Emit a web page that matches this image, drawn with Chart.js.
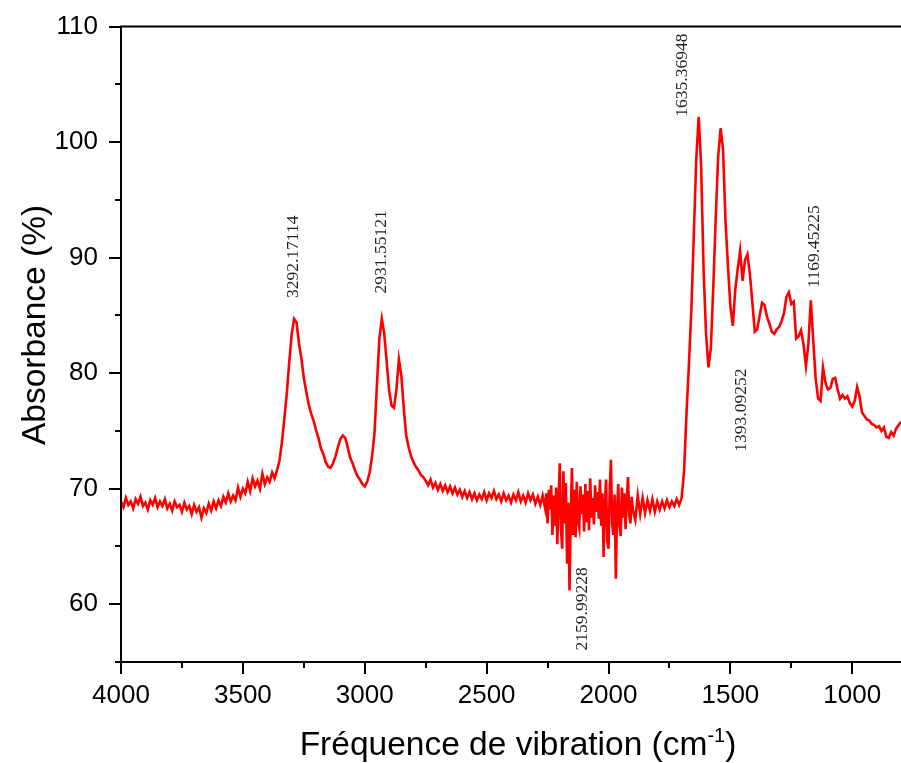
<!DOCTYPE html>
<html>
<head>
<meta charset="utf-8">
<script src="https://cdn.jsdelivr.net/npm/chart.js@4.4.1/dist/chart.umd.min.js"></script>
<style>
html, body { margin: 0; padding: 0; background: #fff; }
#wrap { width: 901px; height: 763px; }
</style>
</head>
<body>
<div id="wrap"><canvas id="chart_instance" width="901" height="763"></canvas></div>
<script>
// wavenumbers (cm-1) (every 10 cm-1, every 5 in the noisy band)
var wavenumber = [
    4000, 3990, 3980, 3970, 3960, 3950, 3940, 3930, 3920, 3910,
    3900, 3890, 3880, 3870, 3860, 3850, 3840, 3830, 3820, 3810,
    3800, 3790, 3780, 3770, 3760, 3750, 3740, 3730, 3720, 3710,
    3700, 3690, 3680, 3670, 3660, 3650, 3640, 3630, 3620, 3610,
    3600, 3590, 3580, 3570, 3560, 3550, 3540, 3530, 3520, 3510,
    3500, 3490, 3480, 3470, 3460, 3450, 3440, 3430, 3420, 3410,
    3400, 3390, 3380, 3370, 3360, 3350, 3340, 3330, 3320, 3310,
    3300, 3290, 3280, 3270, 3260, 3250, 3240, 3230, 3220, 3210,
    3200, 3190, 3180, 3170, 3160, 3150, 3140, 3130, 3120, 3110,
    3100, 3090, 3080, 3070, 3060, 3050, 3040, 3030, 3020, 3010,
    3000, 2990, 2980, 2970, 2960, 2950, 2940, 2930, 2920, 2910,
    2900, 2890, 2880, 2870, 2860, 2850, 2840, 2830, 2820, 2810,
    2800, 2790, 2780, 2770, 2760, 2750, 2740, 2730, 2720, 2710,
    2700, 2690, 2680, 2670, 2660, 2650, 2640, 2630, 2620, 2610,
    2600, 2590, 2580, 2570, 2560, 2550, 2540, 2530, 2520, 2510,
    2500, 2490, 2480, 2470, 2460, 2450, 2440, 2430, 2420, 2410,
    2400, 2390, 2380, 2370, 2360, 2350, 2340, 2330, 2320, 2310,
    2300, 2290, 2280, 2270,
    2260, 2255, 2250, 2245, 2240, 2235, 2230, 2225, 2220, 2215,
    2210, 2205, 2200, 2195, 2190, 2185, 2180, 2175, 2170, 2165,
    2160, 2155, 2150, 2145, 2140, 2135, 2130, 2125, 2120, 2115,
    2110, 2105, 2100, 2095, 2090, 2085, 2080, 2075, 2070, 2065,
    2060, 2055, 2050, 2045, 2040, 2035, 2030, 2025, 2020, 2015,
    2010, 2005, 2000, 1995, 1990, 1985, 1980, 1975, 1970, 1965,
    1960, 1955, 1950, 1945, 1940, 1935, 1930, 1925, 1920, 1915,
    1910, 1905, 1900,
    1890, 1880, 1870, 1860, 1850, 1840, 1830, 1820, 1810,
    1800, 1790, 1780, 1770, 1760, 1750, 1740, 1730, 1720, 1710,
    1700, 1690, 1680, 1670, 1660, 1650, 1640, 1630, 1620, 1610,
    1600, 1590, 1580, 1570, 1560, 1550, 1540, 1530, 1520, 1510,
    1500, 1490, 1480, 1470, 1460, 1450, 1440, 1430, 1420, 1410,
    1400, 1390, 1380, 1370, 1360, 1350, 1340, 1330, 1320, 1310,
    1300, 1290, 1280, 1270, 1260, 1250, 1240, 1230, 1220, 1210,
    1200, 1190, 1180, 1170, 1160, 1150, 1140, 1130, 1120, 1110,
    1100, 1090, 1080, 1070, 1060, 1050, 1040, 1030, 1020, 1010,
    1000, 990, 980, 970, 960, 950, 940, 930, 920, 910,
    900, 890, 880, 870, 860, 850, 840, 830, 820, 810,
    800
];

// absorbance (%)
var absorbance = [
    68.9, 68.4, 69.2, 68.6, 68.9, 68.3, 69.1, 68.7, 69.3, 68.5,
    68.8, 68.2, 69.0, 68.6, 69.2, 68.4, 68.9, 68.5, 69.1, 68.3,
    68.7, 68.1, 68.9, 68.4, 68.6, 68.0, 68.8, 68.2, 68.5, 67.8,
    68.6, 68.0, 68.4, 67.5, 68.3, 67.9, 68.7, 68.1, 68.9, 68.3,
    69.0, 68.5, 69.3, 68.8, 69.6, 68.9, 69.4, 69.0, 70.1, 69.3,
    70.0, 69.6, 70.6, 69.8, 70.9, 70.2, 70.7, 70.0, 71.3, 70.4,
    71.0, 70.6, 71.4, 70.9, 71.6, 72.4, 74.0, 76.0, 78.2, 80.9,
    83.3, 84.7, 84.4, 82.6, 81.3, 79.6, 78.4, 77.3, 76.5, 75.9,
    75.1, 74.4, 73.5, 73.0, 72.3, 71.9, 71.8, 72.2, 72.8, 73.6,
    74.3, 74.6, 74.4, 73.6, 72.7, 72.2, 71.6, 71.1, 70.8, 70.4,
    70.2, 70.6, 71.4, 72.8, 74.8, 79.0, 83.0, 84.7, 83.4, 81.0,
    78.5, 77.2, 77.0, 78.6, 81.2, 79.8, 77.0, 74.6, 73.6, 72.8,
    72.3, 71.9, 71.6, 71.2, 71.0, 70.7, 70.3, 70.8, 70.1, 70.5,
    69.9, 70.4, 69.8, 70.3, 69.7, 70.2, 69.6, 70.1, 69.5, 69.9,
    69.3, 69.8, 69.2, 69.7, 69.1, 69.6, 69.0, 69.5, 69.1, 69.7,
    69.0, 69.6, 69.2, 69.8, 69.1, 69.5, 68.9, 69.6, 69.0, 69.4,
    68.8, 69.5, 69.0, 69.7, 68.9, 69.4, 68.8, 69.6, 69.0, 69.5,
    68.7, 69.3, 68.6, 69.4,
    68.3, 69.6, 67.0, 69.9, 68.2, 70.3, 66.0, 69.4, 66.8, 70.1,
    65.2, 69.0, 72.2, 66.5, 64.8, 71.5, 67.0, 70.5, 63.5, 68.8,
    61.2, 67.5, 71.8, 66.0, 69.9, 65.8, 70.6, 67.2, 66.6, 70.2,
    67.8, 69.5, 66.3, 70.4, 67.1, 69.8, 66.4, 70.9, 67.5, 69.2,
    66.9, 70.3, 68.0, 69.7, 67.4, 70.8, 66.8, 69.6, 64.1, 68.5,
    70.8, 65.5, 64.8, 69.9, 72.5, 67.0, 66.0, 69.5, 62.2, 68.0,
    70.4, 66.8, 65.9, 70.1, 67.5, 69.6, 66.5, 68.9, 71.0, 67.7,
    67.0, 69.3, 68.2,
    67.3, 69.4, 67.8, 69.2, 67.9, 69.0, 68.1, 69.1, 68.0,
    68.9, 68.2, 68.9, 68.3, 69.0, 68.4, 68.9, 68.5, 69.1, 68.6,
    69.2, 71.5, 76.5, 80.8, 85.5, 92.0, 98.5, 102.2, 98.0, 89.0,
    83.5, 80.5, 82.2, 87.5, 93.5, 98.8, 101.2, 99.3, 93.2, 89.3,
    85.8, 84.1, 87.2, 89.0, 90.6, 88.0, 89.8, 90.3, 88.6, 86.2,
    83.6, 83.8, 85.0, 86.1, 85.9, 84.9, 84.3, 83.6, 83.4, 83.8,
    84.0, 84.5, 85.2, 86.6, 87.0, 86.0, 86.2, 83.0, 83.2, 83.7,
    82.5, 80.6, 82.5, 86.3, 82.8, 79.5, 77.8, 77.6, 80.5, 79.2,
    78.6, 78.7, 79.5, 79.6, 78.6, 77.8, 78.1, 77.8, 78.0, 77.4,
    77.1, 77.6, 78.8, 78.0, 76.6, 76.3, 76.0, 75.9, 75.6, 75.5,
    75.3, 75.4, 75.0, 75.3, 74.5, 74.4, 74.9, 74.6, 75.2, 75.5,
    75.8
];

// axis ticks (labels only on the major ones)
var xTickValues = [1000, 1250, 1500, 1750, 2000, 2250, 2500, 2750, 3000, 3250, 3500, 3750, 4000];
var xTickLabels = ["1000", "1500", "2000", "2500", "3000", "3500", "4000"];
var yTickValues = [55, 60, 65, 70, 75, 80, 85, 90, 95, 100, 105, 110];
var yTickLabels = ["60", "70", "80", "90", "100", "110"];

// peak annotations: text, and where the foot of the vertical text sits
var peakLabels = ["3292.17114", "2931.55121", "1635.36948", "1169.45225", "1393.09252", "2159.99228"];
var peakLabelWn = [3291, 2930, 1697, 1156, 1455, 2107];
var peakLabelAbs = [86.5, 86.9, 102.2, 87.4, 73.2, 56.0];

var xTitle = "Fréquence de vibration (cm";
var xTitleSup = "-1";
var yTitle = "Absorbance (%)";

var sans = "'Liberation Sans', Arial, sans-serif";
var serif = "'Liberation Serif', 'Times New Roman', serif";

function isLabelled(list, v) {
    return list.indexOf(String(v)) !== -1;
}

var axesPlugin = {
    id: 'axesPlugin',
    afterDraw: function (chart) {
        var ctx = chart.ctx;
        var a = chart.chartArea;
        var xs = chart.scales.x;
        var ys = chart.scales.y;
        ctx.save();
        ctx.strokeStyle = '#000';
        ctx.lineWidth = 2;
        ctx.beginPath();
        ctx.moveTo(a.left, a.top);
        ctx.lineTo(chart.width, a.top);
        ctx.moveTo(a.left, a.top - 1);
        ctx.lineTo(a.left, a.bottom + 1);
        ctx.moveTo(a.left - 1, a.bottom);
        ctx.lineTo(chart.width, a.bottom);
        xTickValues.forEach(function (v) {
            var px = Math.round(xs.getPixelForValue(v));
            var len = isLabelled(xTickLabels, v) ? 12 : 6;
            ctx.moveTo(px, a.bottom);
            ctx.lineTo(px, a.bottom + len);
        });
        yTickValues.forEach(function (v) {
            var py = Math.round(ys.getPixelForValue(v));
            var len = isLabelled(yTickLabels, v) ? 12 : 6;
            ctx.moveTo(a.left, py);
            ctx.lineTo(a.left - len, py);
        });
        ctx.stroke();

        // peak labels
        ctx.fillStyle = '#222';
        ctx.font = '17.5px ' + serif;
        ctx.textAlign = 'left';
        ctx.textBaseline = 'middle';
        for (var i = 0; i < peakLabels.length; i++) {
            ctx.save();
            ctx.translate(xs.getPixelForValue(peakLabelWn[i]), ys.getPixelForValue(peakLabelAbs[i]));
            ctx.rotate(-Math.PI / 2);
            ctx.fillText(peakLabels[i], 0, 0);
            ctx.restore();
        }

        // axis titles
        ctx.fillStyle = '#000';
        ctx.textBaseline = 'alphabetic';
        ctx.font = '33.5px ' + sans;
        var w1 = ctx.measureText(xTitle).width;
        var w3 = ctx.measureText(')').width;
        ctx.font = '20px ' + sans;
        var w2 = ctx.measureText(xTitleSup).width;
        var x0 = 518 - (w1 + w2 + w3) / 2;
        ctx.font = '33.5px ' + sans;
        ctx.fillText(xTitle, x0, 755);
        ctx.fillText(')', x0 + w1 + w2, 755);
        ctx.font = '20px ' + sans;
        ctx.fillText(xTitleSup, x0 + w1, 742);

        ctx.font = '33.5px ' + sans;
        ctx.textAlign = 'center';
        ctx.save();
        ctx.translate(45, 325);
        ctx.rotate(-Math.PI / 2);
        ctx.fillText(yTitle, 0, 0);
        ctx.restore();
        ctx.restore();
    }
};

window.onload = function () {
    var canvas = document.getElementById("chart_instance").getContext('2d');
    var points = wavenumber.map(function (w, i) { return { x: w, y: absorbance[i] }; });
    new Chart(canvas, {
        type: 'line',
        data: {
            datasets: [{
                data: points,
                borderColor: '#ff0000',
                borderWidth: 2.6,
                pointRadius: 0,
                tension: 0,
                fill: false
            }]
        },
        options: {
            responsive: false,
            animation: false,
            layout: { padding: { top: 25, right: 0, left: 0, bottom: 0 } },
            plugins: { legend: { display: false }, tooltip: { enabled: false } },
            scales: {
                x: {
                    type: 'linear',
                    reverse: true,
                    min: 800,
                    max: 4000,
                    afterBuildTicks: function (s) {
                        s.ticks = xTickValues.map(function (v) { return { value: v }; });
                    },
                    afterFit: function (s) { s.height = 101; },
                    border: { display: false },
                    grid: { display: true, drawOnChartArea: false, drawTicks: true, tickLength: 12, color: 'rgba(0,0,0,0)' },
                    ticks: {
                        autoSkip: false,
                        maxRotation: 0,
                        padding: 6,
                        color: '#000',
                        font: { family: sans, size: 26 },
                        callback: function (v) { return isLabelled(xTickLabels, v) ? String(v) : ''; }
                    }
                },
                y: {
                    min: 55,
                    max: 110,
                    afterBuildTicks: function (s) {
                        s.ticks = yTickValues.map(function (v) { return { value: v }; });
                    },
                    afterFit: function (s) { s.width = 121; },
                    border: { display: false },
                    grid: { display: true, drawOnChartArea: false, drawTicks: true, tickLength: 12, color: 'rgba(0,0,0,0)' },
                    ticks: {
                        autoSkip: false,
                        padding: 11,
                        color: '#000',
                        font: { family: sans, size: 26 },
                        callback: function (v) { return isLabelled(yTickLabels, v) ? String(v) : ''; }
                    }
                }
            }
        },
        plugins: [axesPlugin]
    });
};
</script>
</body>
</html>
